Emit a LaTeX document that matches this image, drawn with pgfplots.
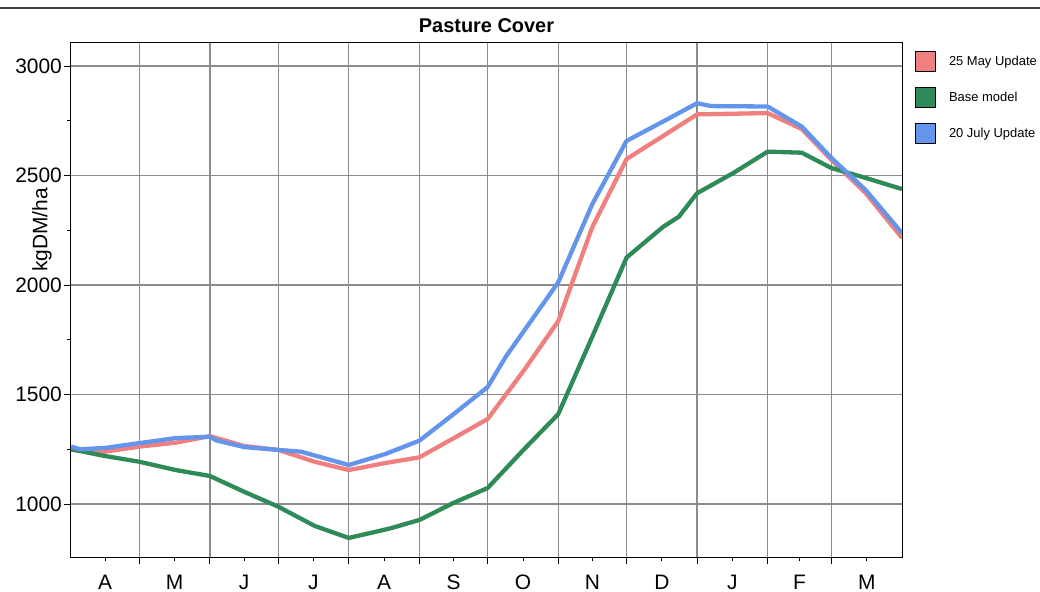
\documentclass[border=0pt]{standalone}
\usepackage{pgfplots}
\pgfplotsset{compat=1.18}
\usepackage{fontspec}
\setmainfont{Liberation Sans}
\definecolor{cRed}{HTML}{F08080}
\definecolor{cGreen}{HTML}{2E8B57}
\definecolor{cBlue}{HTML}{6495ED}
\definecolor{gridgray}{HTML}{8C8C8C}

\begin{document}
\begin{tikzpicture}
\useasboundingbox (-71bp,-35bp) rectangle (969bp,557bp);
\draw[darkgray, line width=2bp] (-71bp,549bp) -- (969bp,549bp);
\begin{axis}[
  at={(0,0)}, anchor=south west, scale only axis,
  width=831bp, height=514bp,
  xmin=0, xmax=365, ymin=758, ymax=3105,
  axis line style={black, line width=1bp},
  tick align=outside,
  xtick pos=bottom, ytick pos=left,
  tick style={black, line width=0.8bp},
  major tick length=7bp,
  minor tick length=3.5bp,
  xtick={30,61,91,122,153,183,214,244,275,306,334},
  xticklabels={},
  minor xtick={15,45.5,76,106.5,137.5,168,198.5,229,259.5,290.5,320,349.5},
  extra x ticks={15,45.5,76,106.5,137.5,168,198.5,229,259.5,290.5,320,349.5},
  extra x tick labels={A,M,J,J,A,S,O,N,D,J,F,M},
  extra x tick style={major tick length=0pt, xmajorgrids=false},
  xmajorgrids=true,
  ytick={1000,1500,2000,2500,3000},
  minor y tick num=1,
  ymajorgrids=true,
  grid style={gridgray, line width=1.3bp},
  /pgf/number format/1000 sep={},
  /pgf/number format/assume math mode=true,
  ticklabel style={font=\fontsize{21}{25}\selectfont},
  yticklabel style={anchor=east, inner sep=0pt, xshift=-2bp},
  xticklabel style={anchor=base, inner sep=0pt, yshift=-32bp},
  title={Pasture Cover},
  title style={font=\bfseries\fontsize{20}{24}\selectfont, at={(axis description cs:0.5,1)}, anchor=base, yshift=5bp, inner sep=0pt},
  ylabel={kgDM/ha},
  ylabel style={font=\fontsize{21}{25}\selectfont, at={(axis description cs:-0.023,0.636)}, anchor=south, inner sep=0pt},
  legend style={at={(axis description cs:1,1)}, anchor=north west, xshift=13bp, yshift=-8bp,
    draw=none, fill=none, inner sep=0pt, row sep=15bp,
    font=\fontsize{13}{15}\selectfont, nodes={inner sep=0pt},
    /tikz/every odd column/.append style={column sep=13bp}},
  legend cell align=left,
  every axis plot/.append style={line width=4.3bp, line join=round, mark=none},
]
\addplot[cRed, forget plot] coordinates {
(0,1247)(15,1239)(30,1262)(46,1280)(61,1310)(76,1265)(91,1247)(107,1193)(122,1155)
(138,1187)(153,1213)(168,1300)(183,1388)(199,1611)(214,1835)(229,2265)(244,2575)
(260,2680)(275,2779)(291,2782)(306,2785)(321,2712)(334,2571)(349,2420)(365,2215)};
\addplot[cGreen, forget plot] coordinates {
(0,1250)(15,1219)(30,1193)(46,1155)(61,1128)(76,1056)(91,988)(107,900)(122,845)
(140,888)(153,927)(168,1005)(183,1073)(199,1250)(214,1410)(229,1765)(244,2125)
(260,2265)(267,2312)(275,2419)(291,2512)(306,2609)(321,2604)(334,2534)(349,2489)(365,2438)};
\addplot[cBlue, forget plot] coordinates {
(0,1262)(4,1250)(15,1256)(30,1278)(46,1301)(61,1307)(64,1290)(76,1260)(91,1247)
(101,1239)(122,1178)(138,1228)(153,1289)(168,1410)(183,1534)(191,1673)(214,2012)
(229,2370)(244,2658)(260,2746)(275,2830)(281,2817)(306,2815)(321,2723)(334,2580)
(349,2434)(365,2237)};
\addlegendimage{legend image code/.code={\draw[black, line width=0.8bp, fill=cRed] (0bp,-10bp) rectangle (20bp,10bp);}}
\addlegendentry{25 May Update}
\addlegendimage{legend image code/.code={\draw[black, line width=0.8bp, fill=cGreen] (0bp,-10bp) rectangle (20bp,10bp);}}
\addlegendentry{Base model}
\addlegendimage{legend image code/.code={\draw[black, line width=0.8bp, fill=cBlue] (0bp,-10bp) rectangle (20bp,10bp);}}
\addlegendentry{20 July Update}
\end{axis}
\end{tikzpicture}
\end{document}
